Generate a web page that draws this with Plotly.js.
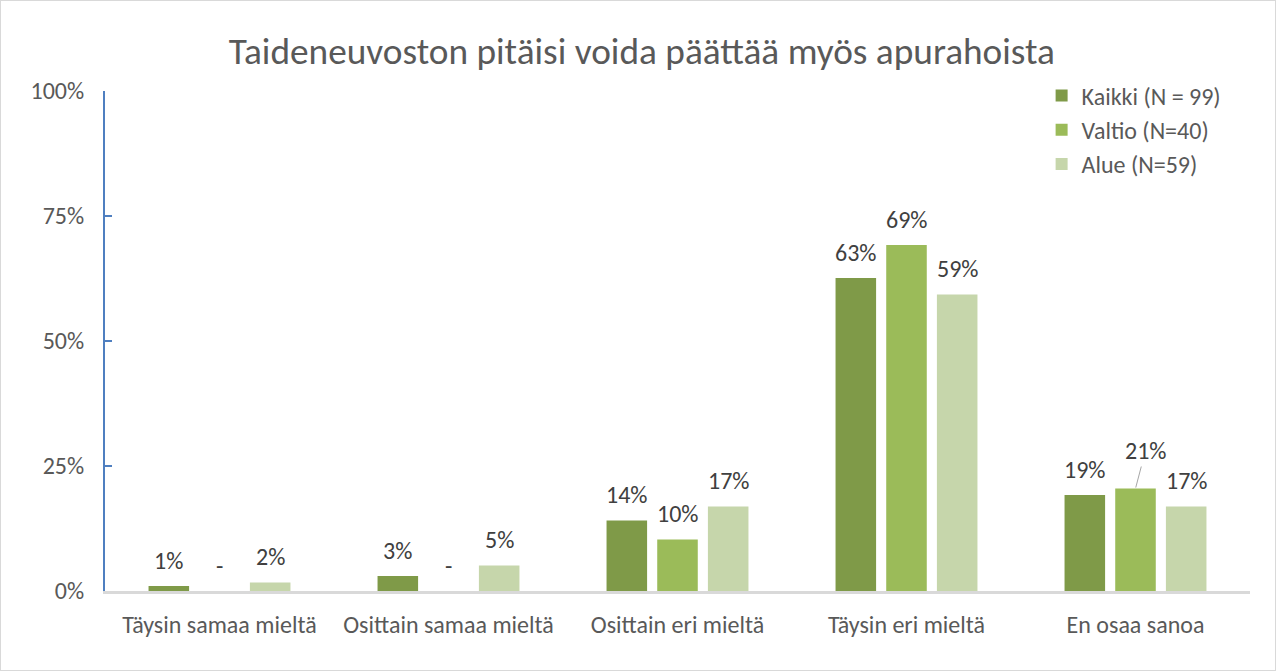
<!DOCTYPE html>
<html>
<head>
<meta charset="utf-8">
<script src="https://cdn.plot.ly/plotly-3.0.1.min.js"></script>
<style>
  html, body { margin: 0; padding: 0; background: #fff; }
  #chart { width: 1276px; height: 671px; box-sizing: border-box; border: 1px solid #D9D9D9; }
</style>
</head>
<body>
<div id="chart"></div>
<script>
const categories = ["Täysin samaa mieltä", "Osittain samaa mieltä", "Osittain eri mieltä", "Täysin eri mieltä", "En osaa sanoa"];
const seriesNames = ["Kaikki (N = 99)", "Valtio (N=40)", "Alue (N=59)"];
const kaikki = [1.0, 3.0, 14.1, 62.6, 19.2];
const valtio = [0, 0, 10.3, 69.2, 20.5];
const alue = [1.7, 5.1, 16.9, 59.3, 16.9];
const colors = ["#7F9A48", "#9BBB59", "#C6D6AB"];
const yTicks = [0, 25, 50, 75, 100];
const yTickLabels = ["0%", "25%", "50%", "75%", "100%"];

const FONT = "Carlito, Lato, 'Open Sans', sans-serif";
const allSeries = [kaikki, valtio, alue];

const traces = allSeries.map((vals, i) => ({
  type: "bar",
  name: seriesNames[i],
  legendgroup: "g" + i,
  x: categories,
  y: vals,
  marker: { color: colors[i] },
  hoverinfo: "skip"
}));

// pixel geometry of grouped bars
const W = 1276, mL = 105, mR = 26;
const catW = (W - mL - mR) / categories.length;
const bargap = 0.336;
const slot = catW * (1 - bargap) / 3;

const annotations = [];
allSeries.forEach((vals, i) => {
  vals.forEach((v, j) => {
    const txt = v === 0 ? "-" : Math.round(v) + "%";
    const xs = (i - 1) * slot;
    if (i === 1 && j === 4) {
      annotations.push({
        x: categories[j], y: v, xref: "x", yref: "y", xshift: xs,
        text: txt, showarrow: true, arrowhead: 0, arrowwidth: 1, arrowcolor: "#A6A6A6",
        ax: 10, ay: -38, standoff: 1, startstandoff: 0,
        font: { family: FONT, size: 24, color: "#404040" }
      });
    } else {
      annotations.push({
        x: categories[j], y: v, xref: "x", yref: "y", xshift: xs, yshift: 26,
        yanchor: "middle", xanchor: "center",
        text: txt, showarrow: false,
        font: { family: FONT, size: 24, color: "#404040" }
      });
    }
  });
});

const layout = {
  width: 1274, height: 669,
  margin: { l: mL - 1, r: mR - 1, t: 90, b: 79 },
  paper_bgcolor: "#ffffff",
  plot_bgcolor: "#ffffff",
  font: { family: FONT, color: "#595959", size: 24 },
  title: {
    text: "Taideneuvoston pitäisi voida päättää myös apurahoista",
    font: { family: FONT, size: 37.3, color: "#595959" },
    x: 0.503, xanchor: "center", y: 0.925, yanchor: "middle"
  },
  barmode: "group",
  bargap: bargap,
  bargroupgap: 0.2,
  xaxis: {
    type: "category",
    showgrid: false,
    zeroline: false,
    showline: true, linecolor: "#D9D9D9", linewidth: 3,
    ticks: "",
    ticklabelstandoff: 10,
    tickfont: { family: FONT, size: 24, color: "#595959" }
  },
  yaxis: {
    range: [0, 100],
    tickvals: yTicks,
    ticktext: yTickLabels,
    showgrid: false,
    zeroline: false,
    showline: true, linecolor: "#4F7FC0", linewidth: 2,
    ticks: "inside", ticklen: 7, tickwidth: 2, tickcolor: "#4F7FC0",
    ticklabelstandoff: 14,
    tickfont: { family: FONT, size: 24, color: "#595959" }
  },
  legend: {
    x: 0.818, xanchor: "left", y: 1.035, yanchor: "top",
    font: { family: FONT, size: 24, color: "#595959" },
    bgcolor: "rgba(0,0,0,0)",
    traceorder: "grouped",
    tracegroupgap: 0,
    itemwidth: 30
  },
  annotations: annotations,
  showlegend: true
};

Plotly.newPlot("chart", traces, layout, { displayModeBar: false, staticPlot: true });
</script>
</body>
</html>
